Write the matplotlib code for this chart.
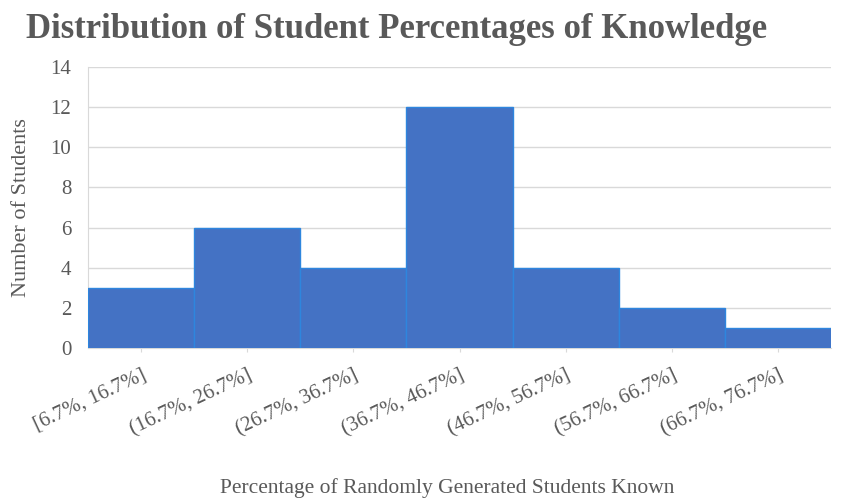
import matplotlib
matplotlib.use("Agg")
import matplotlib.pyplot as plt
import numpy as np

bin_edges = [6.7, 16.7, 26.7, 36.7, 46.7, 56.7, 66.7, 76.7]
counts = [3, 6, 4, 12, 4, 2, 1]
labels = ["[6.7%, 16.7%]", "(16.7%, 26.7%]", "(26.7%, 36.7%]", "(36.7%, 46.7%]",
          "(46.7%, 56.7%]", "(56.7%, 66.7%]", "(66.7%, 76.7%]"]
y_ticks = [0, 2, 4, 6, 8, 10, 12, 14]

plt.rcParams['font.family'] = ['Liberation Serif', 'DejaVu Serif']
grey = '#595959'

fig = plt.figure(figsize=(8.52, 4.99), dpi=100)
ax = fig.add_axes([88/852, 1-348/499, (831-88)/852, (348-67)/499])

x = np.arange(len(counts))
ax.bar(x, counts, width=1.0, color='#4472C4', edgecolor='#2E86DE', linewidth=1.0, zorder=3)

ax.set_xlim(-0.5, len(counts)-0.5)
ax.set_ylim(0, 14)
ax.set_yticks(y_ticks)
ax.set_yticklabels([str(v) for v in y_ticks], fontsize=15, color=grey)
ax.yaxis.grid(True, color='#D9D9D9', linewidth=1.0, zorder=0)
ax.set_axisbelow(True)
ax.tick_params(axis='y', length=0, pad=12)

ax.set_xticks(x)
ax.set_xticklabels(labels, rotation=25, ha='right', rotation_mode='anchor', fontsize=15, color=grey)
ax.tick_params(axis='x', length=3, color='#D9D9D9', pad=10)

for s in ['top', 'right']:
    ax.spines[s].set_visible(False)
ax.spines['left'].set_color('#D9D9D9')
ax.spines['bottom'].set_color('#D9D9D9')

ax.set_ylabel('Number of Students', fontsize=16, color=grey, labelpad=14)
fig.text(447/852, 1-488/499, 'Percentage of Randomly Generated Students Known',
         ha='center', va='center', fontsize=15.5, color=grey)
fig.text(397/852, 1-30/499, 'Distribution of Student Percentages of Knowledge',
         ha='center', va='center', fontsize=25, color=grey, fontweight='bold')

fig.savefig('out.png', dpi=100)
